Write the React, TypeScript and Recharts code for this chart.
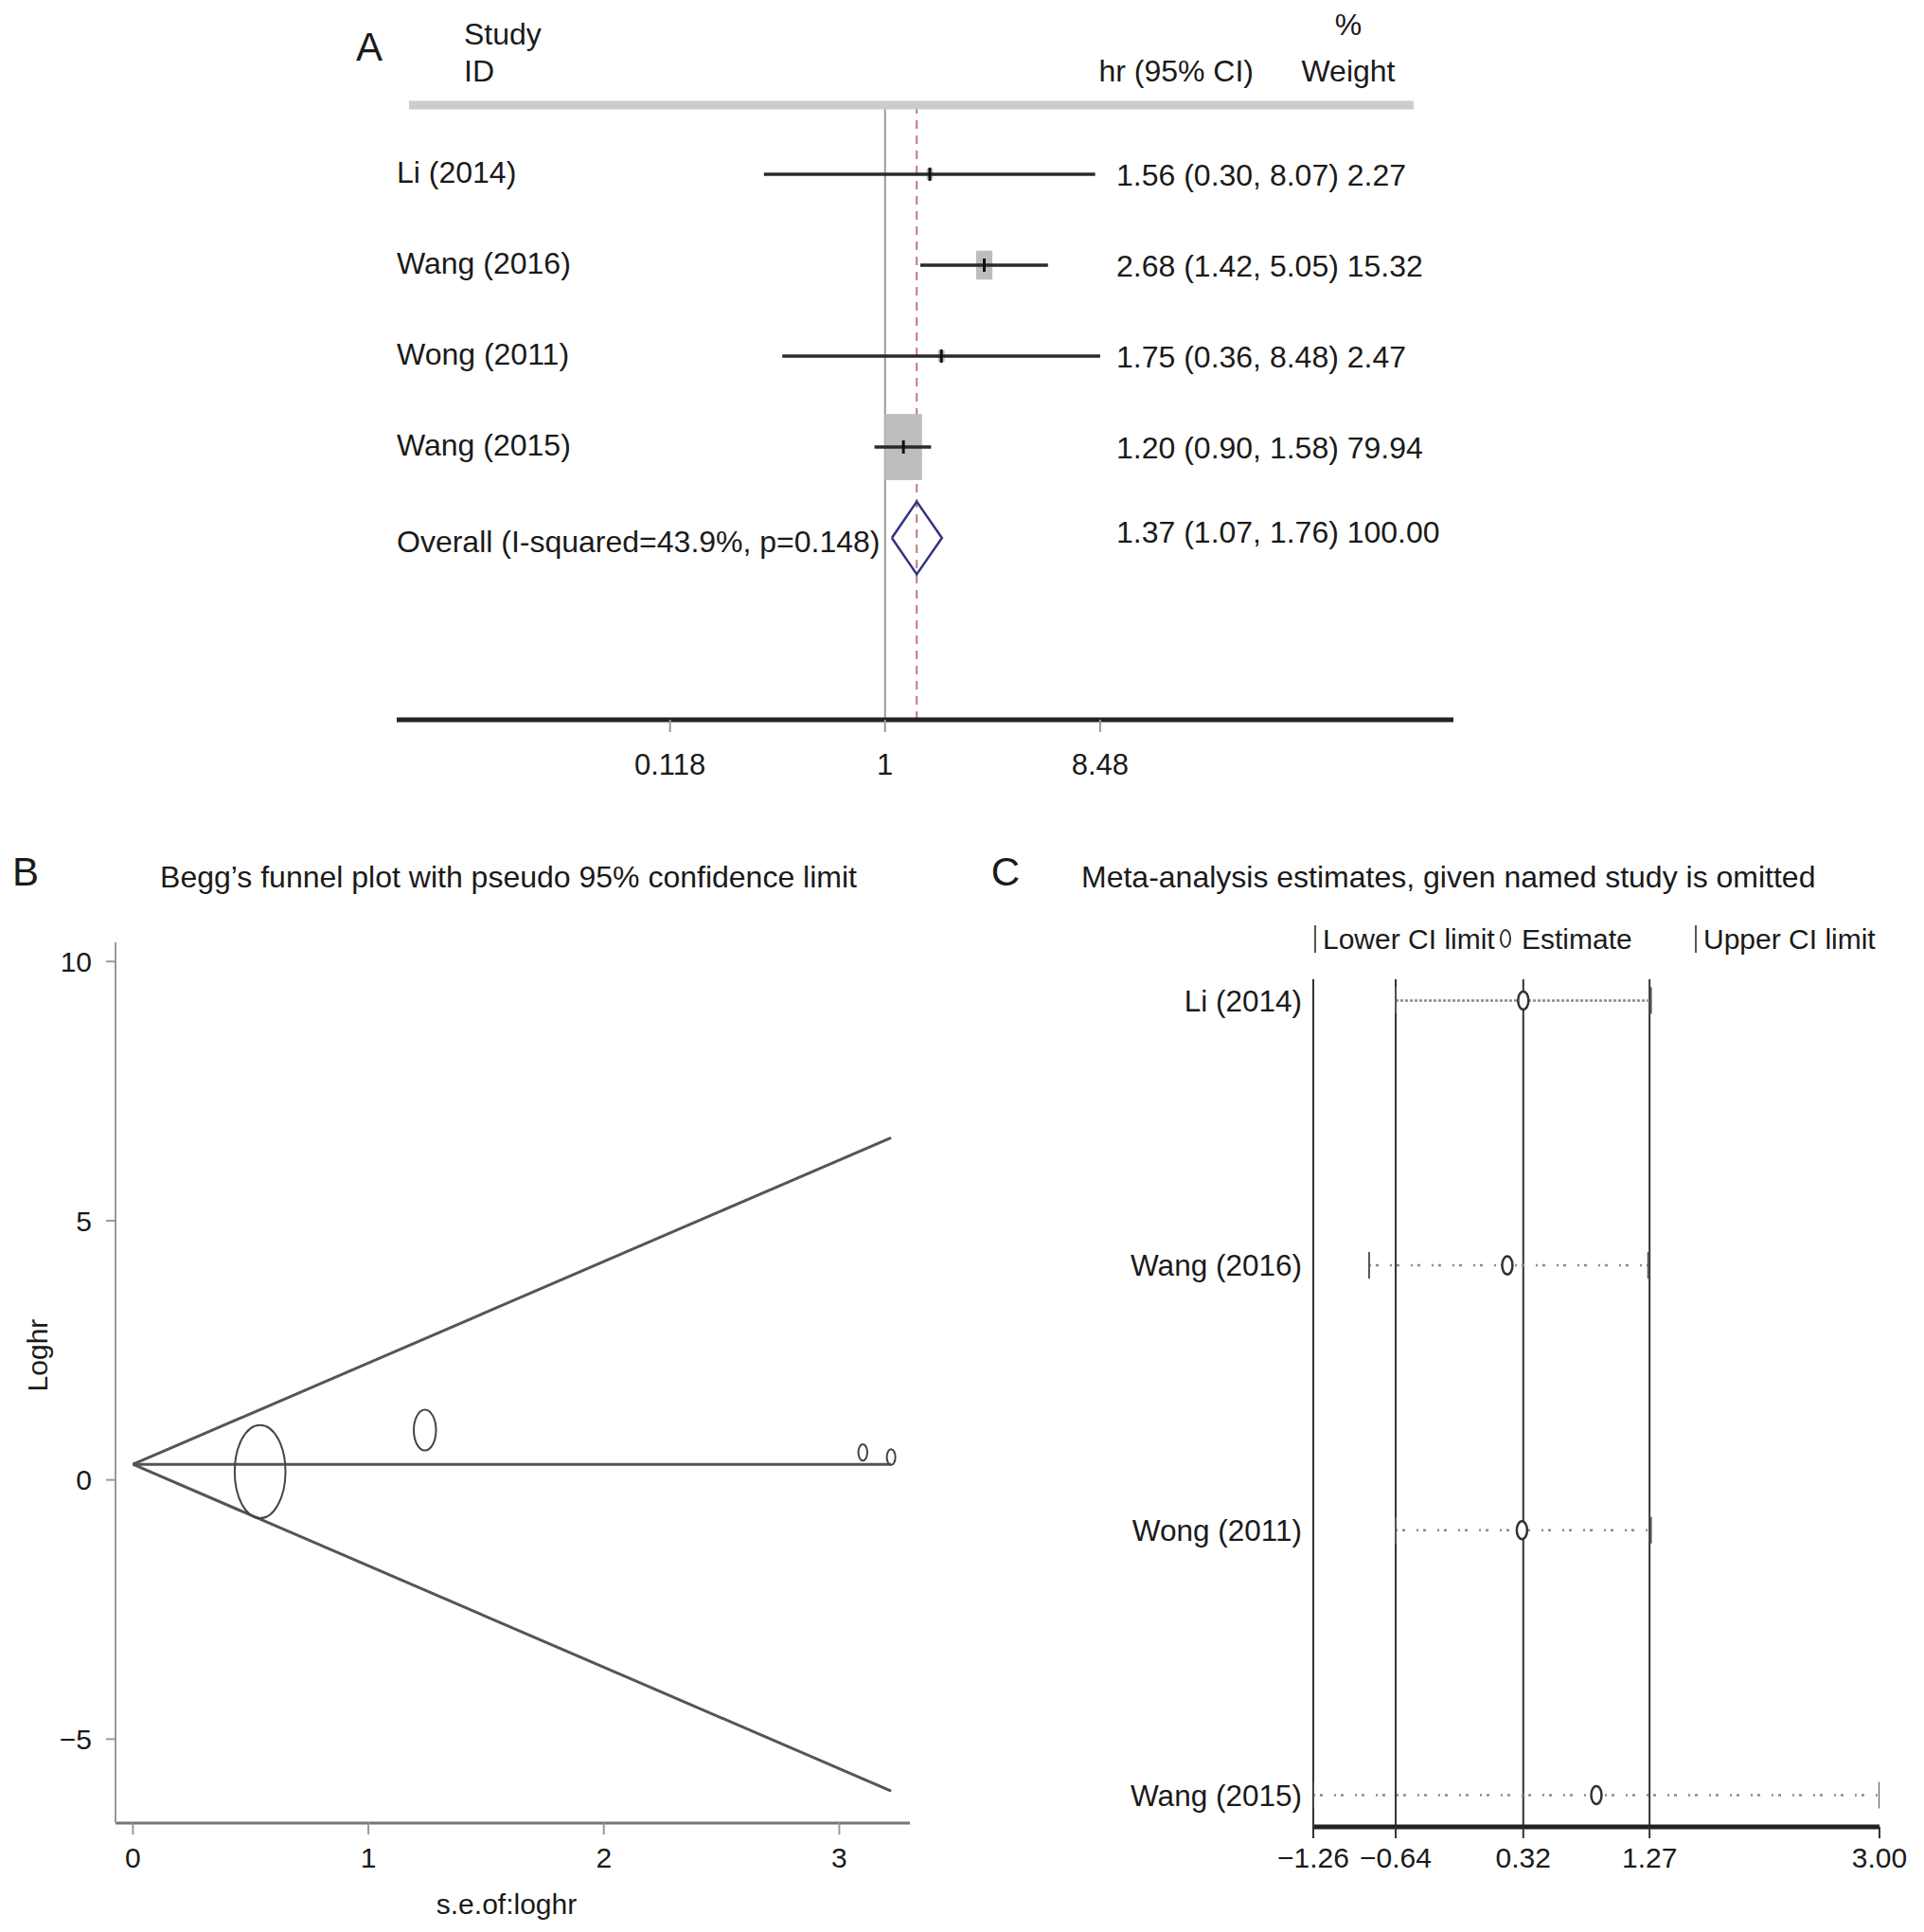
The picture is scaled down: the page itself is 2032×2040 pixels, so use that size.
import React from "react";
import { ScatterChart, Scatter, XAxis, YAxis, ReferenceLine } from "recharts";

const FONT = "'Liberation Sans', Arial, Helvetica, sans-serif";
const INK = "#1a1a1a";

// ---- A: forest plot
const studies = ["Li (2014)", "Wang (2016)", "Wong (2011)", "Wang (2015)"];
const hr = [1.56, 2.68, 1.75, 1.2];
const hrLow = [0.3, 1.42, 0.36, 0.9];
const hrHigh = [8.07, 5.05, 8.48, 1.58];
const weight = [2.27, 15.32, 2.47, 79.94];
const overallLabel = "Overall (I-squared=43.9%, p=0.148)";
const overallHr = 1.37;
const overallLow = 1.07;
const overallHigh = 1.76;
const overallWeight = 100;
const forestTicks = [0.118, 1, 8.48];

// ---- B: Begg's funnel
const funnelSe = [3.22, 1.24, 3.1, 0.54];
const funnelLogHr = [0.44, 0.96, 0.53, 0.16];
const limitSe = [0, 3.22];
const limitUpper = [0.3, 6.6];
const limitMid = [0.3, 0.3];
const limitLower = [0.3, -6.0];
const funnelXTicks = [0, 1, 2, 3];
const funnelYTicks = [-5, 0, 5, 10];

// ---- C: leave-one-out
const omitLow = [-0.64, -0.84, -0.64, -1.26];
const omitEst = [0.32, 0.2, 0.31, 0.87];
const omitHigh = [1.28, 1.26, 1.28, 3.0];
const omitTicks = [-1.26, -0.64, 0.32, 1.27, 3.0];
const omitLines = [-0.64, 0.32, 1.27];

const f2 = (v: number) => v.toFixed(2);
const minus = (v: number, d: number) => (v < 0 ? "\u2212" : "") + Math.abs(v).toFixed(d);

const Empty = () => <g />;

function ForestBox(props: any) {
  const { cx, cy, payload } = props;
  const w = 4.4 * Math.sqrt(payload.weight);
  const h = 7.8 * Math.sqrt(payload.weight);
  return <rect x={cx - w / 2} y={cy - h / 2} width={w} height={h} fill="#bdbdbd" />;
}

function ForestTick(props: any) {
  const { cx, cy } = props;
  return <line x1={cx} x2={cx} y1={cy - 7} y2={cy + 7} stroke="#111" strokeWidth={3} />;
}

function ForestText(props: any) {
  const { cy, payload } = props;
  return (
    <g fontFamily={FONT} fontSize={32} fill={INK}>
      <text x={419} y={cy + payload.nameDy} dominantBaseline="central">{payload.name}</text>
      <text x={1179} y={cy + payload.estDy} dominantBaseline="central">{payload.est}</text>
    </g>
  );
}

function ForestPlot() {
  const rows = studies.map((name, i) => ({
    x: hr[i], y: i + 1, weight: weight[i], name, nameDy: -2, estDy: 1,
    est: `${f2(hr[i])} (${f2(hrLow[i])}, ${f2(hrHigh[i])}) ${f2(weight[i])}`,
  }));
  const oy = studies.length + 1;
  const overallRow = [{
    x: overallHr, y: oy, name: overallLabel, nameDy: 4, estDy: -6,
    est: `${f2(overallHr)} (${f2(overallLow)}, ${f2(overallHigh)}) ${f2(overallWeight)}`,
  }];
  const diamond = [
    { x: overallLow, y: oy }, { x: overallHr, y: oy - 0.4 }, { x: overallHigh, y: oy },
    { x: overallHr, y: oy + 0.4 }, { x: overallLow, y: oy },
  ];
  return (
    <ScatterChart width={2032} height={880} margin={{ top: 111, right: 497, bottom: 50, left: 419 }}>
      <XAxis type="number" dataKey="x" scale="log" domain={[0.0078, 284]} allowDataOverflow
        ticks={forestTicks} tickFormatter={(v: number) => String(v)} height={70}
        axisLine={{ stroke: "#222", strokeWidth: 5 }} tickLine={{ stroke: "#999", strokeWidth: 2 }}
        tickSize={13} tickMargin={23} tick={{ fontSize: 31, fill: INK, fontFamily: FONT }} />
      <YAxis type="number" dataKey="y" domain={[0.24, 7]} reversed hide allowDataOverflow />
      <ReferenceLine x={1} stroke="#9a9a9a" strokeWidth={2} />
      <ReferenceLine x={overallHr} stroke="#c47a7a" strokeWidth={2} strokeDasharray="9 7" />
      <Scatter data={rows} shape={ForestBox} isAnimationActive={false} />
      {studies.map((s, i) => (
        <Scatter key={s} data={[{ x: hrLow[i], y: i + 1 }, { x: hrHigh[i], y: i + 1 }]}
          line={{ stroke: "#2a2a2a", strokeWidth: 3.5 }} shape={Empty} isAnimationActive={false} />
      ))}
      <Scatter data={rows} shape={ForestTick} isAnimationActive={false} />
      <Scatter data={diamond} line={{ stroke: "#33337f", strokeWidth: 2.5, fill: "none" }}
        shape={Empty} isAnimationActive={false} />
      <Scatter data={rows} shape={ForestText} isAnimationActive={false} />
      <Scatter data={overallRow} shape={ForestText} isAnimationActive={false} />
    </ScatterChart>
  );
}

function FunnelMark(props: any) {
  const { cx, cy, payload } = props;
  const s = Math.sqrt(payload.weight);
  return <ellipse cx={cx} cy={cy} rx={3.0 * s} ry={5.5 * s} fill="none" stroke="#444" strokeWidth={2} />;
}

function FunnelPlot() {
  const pts = studies.map((name, i) => ({ x: funnelSe[i], y: funnelLogHr[i], weight: weight[i], name }));
  const limits = [limitUpper, limitMid, limitLower].map((ys) => limitSe.map((x, j) => ({ x, y: ys[j] })));
  return (
    <ScatterChart width={1016} height={1160} margin={{ top: 115, right: 55, bottom: 55, left: 42 }}>
      <XAxis type="number" dataKey="x" domain={[-0.074, 3.3]} allowDataOverflow ticks={funnelXTicks}
        height={60} axisLine={{ stroke: "#777", strokeWidth: 3 }} tickLine={{ stroke: "#999", strokeWidth: 2 }}
        tickSize={12} tickMargin={14} tick={{ fontSize: 30, fill: INK, fontFamily: FONT }} />
      <YAxis type="number" dataKey="y" domain={[-6.62, 10.37]} allowDataOverflow ticks={funnelYTicks}
        tickFormatter={(v: number) => minus(v, 0)} width={80}
        axisLine={{ stroke: "#999", strokeWidth: 2 }} tickLine={{ stroke: "#999", strokeWidth: 2 }}
        tickSize={10} tickMargin={15} tick={{ fontSize: 30, fill: INK, fontFamily: FONT }} />
      {limits.map((d, i) => (
        <Scatter key={i} data={d} line={{ stroke: "#555", strokeWidth: 3 }} shape={Empty} isAnimationActive={false} />
      ))}
      <Scatter data={pts} shape={FunnelMark} isAnimationActive={false} />
    </ScatterChart>
  );
}

function OmitCap(props: any) {
  const { cx, cy } = props;
  return <line x1={cx} x2={cx} y1={cy - 14} y2={cy + 14} stroke="#555" strokeWidth={2} />;
}

function OmitEstimate(props: any) {
  const { cx, cy } = props;
  return <ellipse cx={cx} cy={cy} rx={5.5} ry={9.5} fill="#fff" stroke="#333" strokeWidth={2.5} />;
}

function InfluencePlot() {
  const est = studies.map((name, i) => ({ x: omitEst[i], y: i + 1, name }));
  return (
    <ScatterChart width={1016} height={1160} margin={{ top: 154, right: 47, bottom: 51, left: 71 }}>
      <XAxis type="number" dataKey="x" domain={[-1.26, 3.0]} allowDataOverflow ticks={omitTicks}
        tickFormatter={(v: number) => minus(v, 2)} height={60}
        axisLine={{ stroke: "#222", strokeWidth: 5 }} tickLine={{ stroke: "#333", strokeWidth: 2 }}
        tickSize={12} tickMargin={10} tick={{ fontSize: 30, fill: INK, fontFamily: FONT }} />
      <YAxis type="number" dataKey="y" domain={[0.92, 4.12]} reversed allowDataOverflow ticks={[1, 2, 3, 4]}
        tickFormatter={(v: number) => studies[v - 1] ?? ""} width={300}
        axisLine={{ stroke: "#333", strokeWidth: 2 }} tickLine={false}
        tickSize={0} tickMargin={12} tick={{ fontSize: 31.5, fill: INK, fontFamily: FONT }} />
      {omitLines.map((v) => (
        <ReferenceLine key={v} x={v} stroke="#333" strokeWidth={2} />
      ))}
      {studies.map((s, i) => (
        <Scatter key={s} data={[{ x: omitLow[i], y: i + 1 }, { x: omitHigh[i], y: i + 1 }]}
          line={{ stroke: "#8a8a8a", strokeWidth: 2.5, strokeDasharray: i === 0 ? "3 2" : "2 5 3 12" }}
          shape={OmitCap} isAnimationActive={false} />
      ))}
      <Scatter data={est} shape={OmitEstimate} isAnimationActive={false} />
    </ScatterChart>
  );
}

export default function App() {
  return (
    <div style={{ position: "absolute", left: 0, top: 0, width: 2032, height: 2040, background: "#fff", fontFamily: FONT }}>
      <div style={{ position: "absolute", left: 0, top: 0 }}><ForestPlot /></div>
      <div style={{ position: "absolute", left: 0, top: 880 }}><FunnelPlot /></div>
      <div style={{ position: "absolute", left: 1016, top: 880 }}><InfluencePlot /></div>
      <svg width={2032} height={2040} style={{ position: "absolute", left: 0, top: 0, pointerEvents: "none" }}
        fontFamily={FONT} fill={INK}>
        {/* panel A header */}
        <text x={390} y={49} fontSize={42} textAnchor="middle" dominantBaseline="central">A</text>
        <text x={490} y={36} fontSize={32} dominantBaseline="central">Study</text>
        <text x={490} y={75} fontSize={32} dominantBaseline="central">ID</text>
        <text x={1324} y={75} fontSize={32} textAnchor="end" dominantBaseline="central">hr (95% CI)</text>
        <text x={1424} y={26} fontSize={32} textAnchor="middle" dominantBaseline="central">%</text>
        <text x={1424} y={75} fontSize={32} textAnchor="middle" dominantBaseline="central">Weight</text>
        <line x1={432} x2={1493} y1={111} y2={111} stroke="#cccccc" strokeWidth={9} />
        {/* panel B */}
        <text x={27} y={920} fontSize={42} textAnchor="middle" dominantBaseline="central">B</text>
        <text x={537} y={926} fontSize={32} textAnchor="middle" dominantBaseline="central">Begg’s funnel plot with pseudo 95% confidence limit</text>
        <text x={39} y={1431} fontSize={30} textAnchor="middle" dominantBaseline="central" transform="rotate(-90 39 1431)">Loghr</text>
        <text x={535} y={2010} fontSize={30} textAnchor="middle" dominantBaseline="central">s.e.of:loghr</text>
        {/* panel C */}
        <text x={1062} y={920} fontSize={42} textAnchor="middle" dominantBaseline="central">C</text>
        <text x={1142} y={926} fontSize={32} dominantBaseline="central">Meta-analysis estimates, given named study is omitted</text>
        <line x1={1389} x2={1389} y1={977} y2={1006} stroke="#555" strokeWidth={2} />
        <text x={1397} y={991} fontSize={30} dominantBaseline="central">Lower CI limit</text>
        <ellipse cx={1590} cy={991} rx={5} ry={9} fill="#fff" stroke="#333" strokeWidth={2} />
        <text x={1607} y={991} fontSize={30} dominantBaseline="central">Estimate</text>
        <line x1={1791} x2={1791} y1={977} y2={1006} stroke="#555" strokeWidth={2} />
        <text x={1799} y={991} fontSize={30} dominantBaseline="central">Upper CI limit</text>
      </svg>
    </div>
  );
}
